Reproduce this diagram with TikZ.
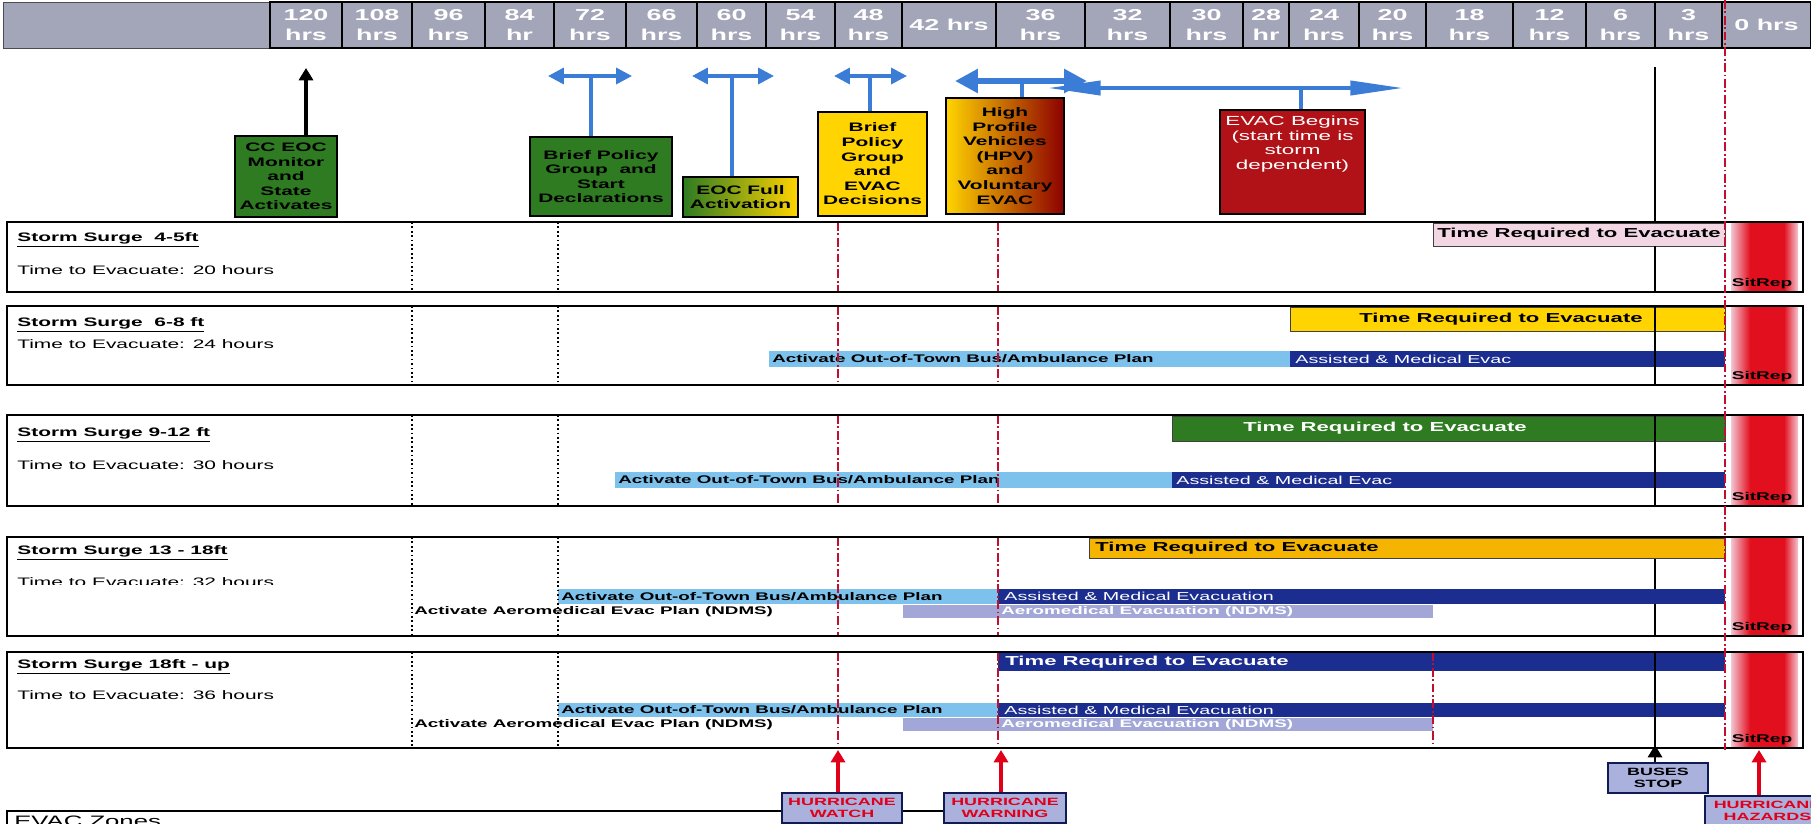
\documentclass[tikz,border=0pt]{standalone}
\usepackage{fontspec}
\setmainfont[FakeStretch=1.7]{Liberation Sans}
\usetikzlibrary{arrows.meta,positioning}

\definecolor{hdrgray}{HTML}{A3A5B8}
\definecolor{evgreen}{HTML}{2E7B22}
\definecolor{evyellow}{HTML}{FFD400}
\definecolor{evorange}{HTML}{F4B400}
\definecolor{evpink}{HTML}{F2D6E4}
\definecolor{skyblue}{HTML}{7DC2EC}
\definecolor{navyblue}{HTML}{1B2D8E}
\definecolor{lavender}{HTML}{A2A7D8}
\definecolor{evred}{HTML}{B01218}
\definecolor{tblue}{HTML}{3B7CD6}
\definecolor{guidered}{HTML}{BF1030}
\definecolor{alertred}{HTML}{E0001A}
\definecolor{tagfill}{HTML}{ABB1DD}
\definecolor{sitpink}{HTML}{F3C4D2}
\definecolor{sitred}{HTML}{E2101E}

\newcommand{\boxfont}{\fontsize{7}{8.3}\selectfont\bfseries}
\newcommand{\rowfont}{\fontsize{7}{8.4}\selectfont}
\newcommand{\barfont}{\fontsize{6.3}{7.5}\selectfont\bfseries}

\tikzset{
	hdrcell/.style={draw=black, line width=0.7pt},
	hdrtxt/.style={text=white, font=\fontsize{9}{11.5}\selectfont\bfseries, align=center, inner sep=0pt},
	evbox/.style={draw=black, line width=0.7pt, inner sep=0pt, align=center, font=\boxfont},
	tarrow/.style={draw=tblue, line width=2pt, {Triangle[length=9pt,width=9pt]}-{Triangle[length=9pt,width=9pt]}},
	hpvarrow/.style={draw=tblue, line width=3.5pt, {Triangle[length=13pt,width=13pt]}-{Triangle[length=13pt,width=13pt]}},
	longarrow/.style={draw=tblue, line width=2.2pt, {Triangle[length=30pt,width=8pt]}-{Triangle[length=30pt,width=8pt]}},
	tstem/.style={draw=tblue, line width=1.8pt},
	rowframe/.style={draw=black, line width=0.9pt},
	dotguide/.style={black, line width=0.7pt, dash pattern=on 1pt off 1.5pt},
	redguide/.style={guidered, line width=1pt, dash pattern=on 5pt off 1.5pt on 1pt off 1.5pt},
	stopline/.style={black, line width=1.1pt},
	reqbox/.style={draw=black!75, line width=0.5pt},
	rowtitle/.style={anchor=west, inner sep=0pt, font=\rowfont\bfseries},
	rowtext/.style={anchor=west, inner sep=0pt, font=\rowfont},
	bartxt/.style={anchor=west, inner sep=0pt, font=\barfont},
	evactxt/.style={anchor=west, inner sep=0pt, text=white, font=\fontsize{6.6}{7.5}\selectfont},
	reqtxt/.style={inner sep=0pt, font=\fontsize{7.4}{8.5}\selectfont\bfseries},
	sitrep/.style={inner sep=0pt, font=\fontsize{6.4}{7}\selectfont\bfseries},
	tagbox/.style={draw=navyblue!60!black, line width=0.8pt, fill=tagfill, align=center, inner sep=0pt, font=\fontsize{6}{6.9}\selectfont\bfseries},
	alertarrow/.style={draw=alertred, line width=2.2pt, -{Triangle[length=7pt,width=8pt]}},
	blackarrow/.style={draw=black, line width=2pt, -{Triangle[length=7pt,width=8pt]}},
}

\begin{document}
\begin{tikzpicture}[x=0.02cm, y=-0.02cm]
			%%%%% START %%%%%
			\useasboundingbox (0,0) rectangle (1811,823);
			
			% hour scale
			\draw[fill=hdrgray, draw=black!70] (3,2) rectangle (1811,48);
			\foreach \xa/\xb/\lab [count=\i] in {270/342/{120\\hrs}, 342/412/{108\\hrs}, 412/485/{96\\hrs}, 485/554/{84\\hr}, 554/626/{72\\hrs}, 626/697/{66\\hrs}, 697/766/{60\\hrs}, 766/835/{54\\hrs}, 835/902/{48\\hrs}, 902/996/{42 hrs}, 996/1085/{36\\hrs}, 1085/1170/{32\\hrs}, 1170/1243/{30\\hrs}, 1243/1289/{28\\hr}, 1289/1359/{24\\hrs}, 1359/1426/{20\\hrs}, 1426/1513/{18\\hrs}, 1513/1586/{12\\hrs}, 1586/1655/{6\\hrs}, 1655/1722/{3\\hrs}, 1722/1811/{0 hrs}}{
				\draw[hdrcell, fill=hdrgray] (\xa,2) rectangle (\xb,48);
				\node[hdrtxt] (hdr\i) at ({(\xa+\xb)/2},25) {\lab};
			}
			
			% decision boxes
			\node[evbox, fill=evgreen, minimum width=2.04cm, minimum height=1.62cm] (cceoc) at (286,176.5) {CC EOC\\Monitor\\and\\State\\Activates};
			\node[evbox, fill=evgreen, minimum width=2.84cm, minimum height=1.58cm] (brief1) at (601,176.5) {Brief Policy\\Group~ and\\Start\\Declarations};
			\node[evbox, left color=evgreen, middle color=yellow!35, right color=evyellow, minimum width=2.3cm, minimum height=0.8cm] (eocfull) at (740.5,197) {EOC Full\\Activation};
			\node[evbox, fill=evyellow, minimum width=2.18cm, minimum height=2.08cm] (brief2) at (872.5,164) {Brief\\Policy\\Group\\and\\EVAC\\Decisions};
			\node[evbox, left color=evyellow, middle color=red!85!orange, right color=red!55!black, minimum width=2.36cm, minimum height=2.32cm] (hpv) at (1005,156) {High\\Profile\\Vehicles\\(HPV)\\and\\Voluntary\\EVAC};
			\node[evbox, fill=evred, minimum width=2.9cm, minimum height=2.08cm] (evacgo) at (1292.5,162) {};
			\node[below=3.5pt of evacgo.north, align=center, text=white, inner sep=0pt, font=\fontsize{7.5}{8.3}\selectfont] (evacgotxt) {EVAC Begins\\(start time is\\storm\\dependent)};
			
			% arrows above the boxes
			\coordinate (cctip) at (306,68);
			\draw[blackarrow] (cctip |- cceoc.north) -- (cctip);
			
			\coordinate (t1l) at (548,76);
			\coordinate (t1r) at (632,76);
			\coordinate (t1m) at (591,76);
			\draw[tstem] (t1m) -- (t1m |- brief1.north);
			\draw[tarrow] (t1l) -- (t1r);
			
			\coordinate (t2l) at (692,76);
			\coordinate (t2r) at (774,76);
			\coordinate (t2m) at (732,76);
			\draw[tstem] (t2m) -- (t2m |- eocfull.north);
			\draw[tarrow] (t2l) -- (t2r);
			
			\coordinate (t3l) at (834,76);
			\coordinate (t3r) at (907,76);
			\coordinate (t3m) at (870,76);
			\draw[tstem] (t3m) -- (t3m |- brief2.north);
			\draw[tarrow] (t3l) -- (t3r);
			
			\coordinate (t5l) at (1048,88);
			\coordinate (t5r) at (1403,88);
			\coordinate (t5m) at (1301,88);
			\draw[tstem] (t5m) -- (t5m |- evacgo.north);
			\draw[longarrow] (t5l) -- (t5r);
			
			\coordinate (t4l) at (955,81);
			\coordinate (t4r) at (1087,81);
			\coordinate (t4m) at (1022,81);
			\draw[tstem] (t4m) -- (t4m |- hpv.north);
			\draw[hpvarrow] (t4l) -- (t4r);
			
			% row 1
			\draw[reqbox, fill=evpink] (1433,223) rectangle (1725,246);
			\node[reqtxt] (req1) at (1579,234.5) {Time Required to Evacuate};
			
			% row 2
			\draw[reqbox, fill=evyellow] (1290,307) rectangle (1725,331);
			\node[reqtxt, anchor=east] (req2) at (1643,319) {Time Required to Evacuate};
			\fill[skyblue] (769,351) rectangle (1290,367);
			\node[bartxt] (bus2) at (772,359) {Activate Out-of-Town Bus/Ambulance Plan};
			\fill[navyblue] (1290,351) rectangle (1725,367);
			\node[evactxt] (med2) at (1295,359) {Assisted \& Medical Evac};
			
			% row 3
			\draw[reqbox, fill=evgreen] (1172,416) rectangle (1725,441);
			\node[reqtxt, text=white] (req3) at (1385,428.5) {Time Required to Evacuate};
			\fill[skyblue] (615,472) rectangle (1172,488);
			\node[bartxt] (bus3) at (618,480) {Activate Out-of-Town Bus/Ambulance Plan};
			\fill[navyblue] (1172,472) rectangle (1725,488);
			\node[evactxt] (med3) at (1176,480) {Assisted \& Medical Evac};
			
			% row 4
			\draw[stopline] (1655,558) -- (1655,636);
			\draw[reqbox, fill=evorange] (1089,538) rectangle (1725,558);
			\node[reqtxt, anchor=west] (req4) at (1095,548) {Time Required to Evacuate};
			\fill[skyblue] (558,589) rectangle (998,604);
			\node[bartxt] (bus4) at (561,596.5) {Activate Out-of-Town Bus/Ambulance Plan};
			\fill[navyblue] (998,589) rectangle (1725,604);
			\node[evactxt] (med4) at (1004,596.5) {Assisted \& Medical Evacuation};
			\fill[lavender] (903,605) rectangle (1433,618);
			\node[bartxt, text=white] (air4) at (1001,611.5) {Aeromedical Evacuation (NDMS)};
			\node[bartxt] (plan4) at (414,612) {Activate Aeromedical Evac Plan (NDMS)};
			
			% row 5
			\fill[navyblue] (998,653) rectangle (1725,671);
			\node[reqtxt, anchor=west, text=white] (req5) at (1005,662) {Time Required to Evacuate};
			\fill[skyblue] (558,703) rectangle (998,717);
			\node[bartxt] (bus5) at (561,710) {Activate Out-of-Town Bus/Ambulance Plan};
			\fill[navyblue] (998,703) rectangle (1725,717);
			\node[evactxt] (med5) at (1004,710) {Assisted \& Medical Evacuation};
			\fill[lavender] (903,718) rectangle (1433,731);
			\node[bartxt, text=white] (air5) at (1001,724.5) {Aeromedical Evacuation (NDMS)};
			\node[bartxt] (plan5) at (414,725) {Activate Aeromedical Evac Plan (NDMS)};
			\draw[redguide] (1433,652) -- (1433,748);
			
			% frames, guides and SitRep
			\foreach \ytop/\ybot in {222/292, 306/385, 415/506, 537/636, 652/748}{
				\shade[left color=sitpink, right color=sitred] (1731,\ytop+1) rectangle (1750,\ybot-1);
				\fill[sitred] (1750,\ytop+1) rectangle (1784,\ybot-1);
				\shade[left color=sitred, right color=sitpink] (1784,\ytop+1) rectangle (1798,\ybot-1);
				\draw[dotguide] (412,\ytop) -- (412,\ybot);
				\draw[dotguide] (558,\ytop) -- (558,\ybot);
				\draw[redguide] (838,\ytop) -- (838,\ybot);
				\draw[redguide] (998,\ytop) -- (998,\ybot);
				\draw[rowframe] (7,\ytop) rectangle (1803,\ybot);
				\node[sitrep] (sit\ytop) at (1762,\ybot-8) {SitRep};
			}
			
			\draw[stopline] (1655,67) -- (1655,222);
			\draw[stopline] (1655,246) -- (1655,292);
			\draw[stopline] (1655,306) -- (1655,385);
			\draw[stopline] (1655,415) -- (1655,506);
			\draw[stopline] (1655,652) -- (1655,748);
			\draw[redguide] (1725,0) -- (1725,750);
			
			% row labels
			\node[rowtitle] (s1) at (17,240) {\underline{Storm Surge~ 4-5ft}};
			\node[rowtext] (e1) at (17,270) {Time to Evacuate: 20 hours};
			\node[rowtitle] (s2) at (17,325) {\underline{Storm Surge~ 6-8 ft}};
			\node[rowtext] (e2) at (17,344) {Time to Evacuate: 24 hours};
			\node[rowtitle] (s3) at (17,435) {\underline{Storm Surge 9-12 ft}};
			\node[rowtext] (e3) at (17,465) {Time to Evacuate: 30 hours};
			\node[rowtitle] (s4) at (17,553) {\underline{Storm Surge 13 - 18ft}};
			\begin{scope}
				\clip (0,560) rectangle (400,584);
				\node[rowtext] (e4) at (17,582) {Time to Evacuate: 32 hours};
			\end{scope}
			\node[rowtitle] (s5) at (17,667) {\underline{Storm Surge 18ft - up}};
			\node[rowtext] (e5) at (17,695) {Time to Evacuate: 36 hours};
			
			% markers below
			\draw[line width=0.8pt] (944,811) -- (7,811) -- (7,830);
			\node[anchor=west, inner sep=0pt, font=\fontsize{8.6}{10}\selectfont] (zones) at (14,821) {EVAC Zones};
			
			\coordinate (watchtip) at (838,750);
			\node[tagbox, text=alertred, minimum width=2.4cm, minimum height=0.6cm] (watch) at (842,808) {HURRICANE\\WATCH};
			\draw[alertarrow] (watch.north -| watchtip) -- (watchtip);
			
			\coordinate (warntip) at (1001,750);
			\node[tagbox, text=alertred, minimum width=2.44cm, minimum height=0.6cm] (warn) at (1005,808) {HURRICANE\\WARNING};
			\draw[alertarrow] (warn.north -| warntip) -- (warntip);
			
			\coordinate (stoptip) at (1655,745);
			\node[tagbox, minimum width=2cm, minimum height=0.6cm] (buses) at (1658,778) {BUSES\\STOP};
			\draw[blackarrow, line width=1.6pt] (buses.north -| stoptip) -- (stoptip);
			
			\coordinate (hazardtip) at (1759,750);
			\node[tagbox, text=alertred, minimum width=2.5cm, minimum height=0.6cm] (hazard) at (1767.5,811) {HURRICANE\\HAZARDS};
			\draw[alertarrow] (hazard.north -| hazardtip) -- (hazardtip);
			
			%%%%% END %%%%%
\end{tikzpicture}
\end{document}
